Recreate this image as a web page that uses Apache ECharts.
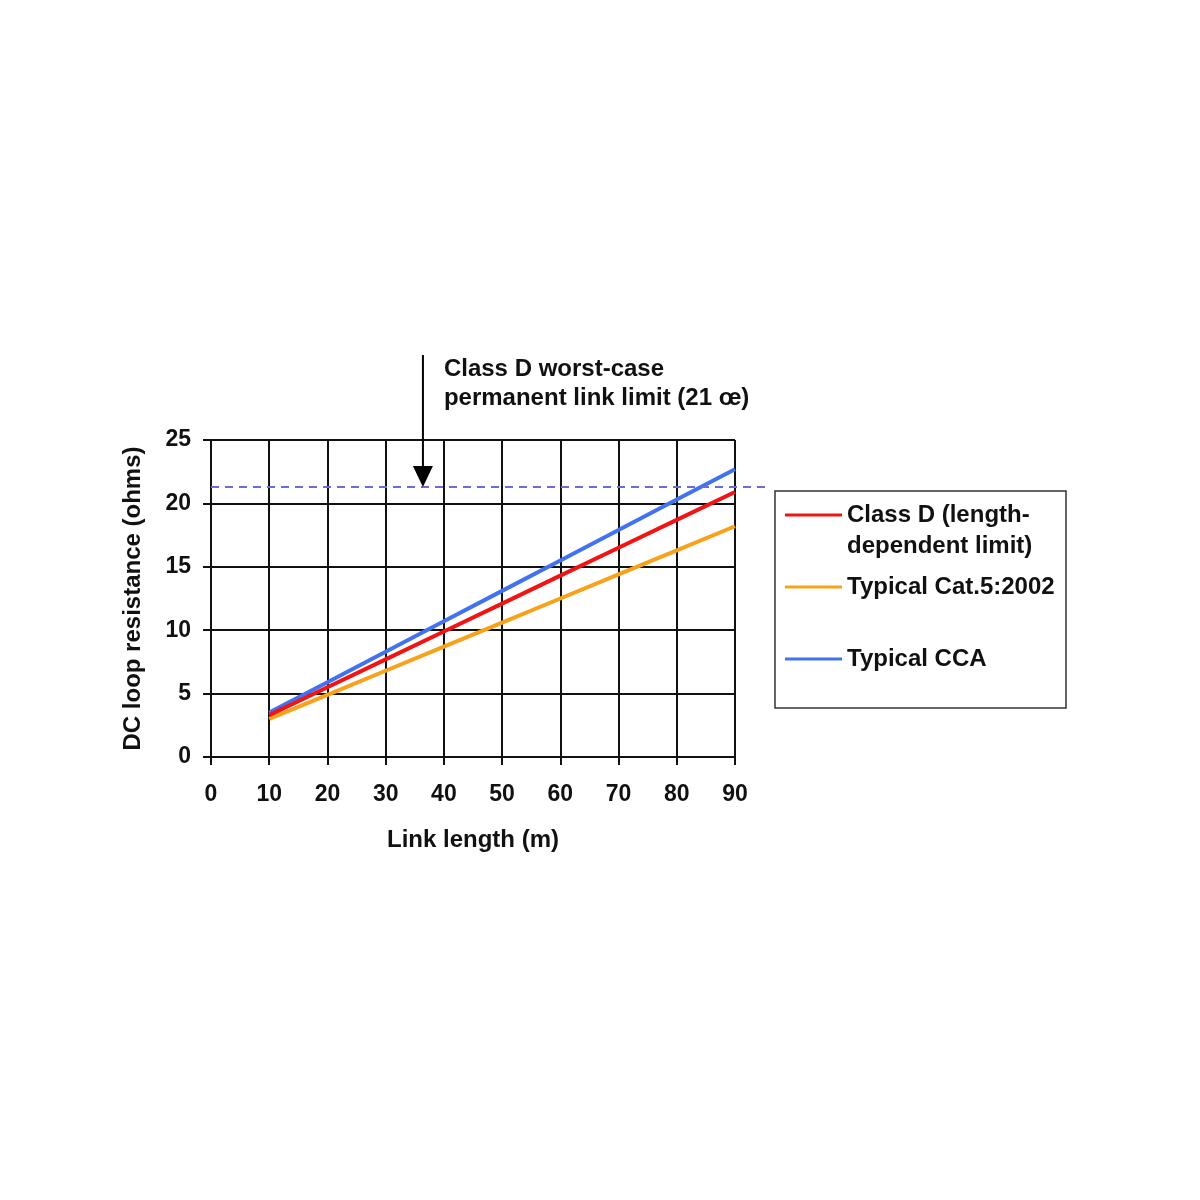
<!DOCTYPE html>
<html><head><meta charset="utf-8">
<script src="https://cdn.jsdelivr.net/npm/echarts@6/dist/echarts.min.js"></script>
<style>html,body{margin:0;padding:0;background:#fff}#c{width:1200px;height:1200px}</style>
</head><body><div id="c"></div>
<script>
const xValues = [10, 20, 30, 40, 50, 60, 70, 80, 90];
const classD = [3.3, 5.5, 7.7, 9.9, 12.1, 14.3, 16.5, 18.7, 20.9];
const cat5 = [3.0, 4.9, 6.8, 8.7, 10.6, 12.5, 14.4, 16.3, 18.2];
const cca = [3.5, 5.9, 8.3, 10.7, 13.1, 15.5, 17.9, 20.3, 22.7];
const seriesNames = ['Class D (length-\ndependent limit)', 'Typical Cat.5:2002', 'Typical CCA'];
const seriesColors = ['#f01414', '#f7a21b', '#4272f0'];
const xTicks = [0, 10, 20, 30, 40, 50, 60, 70, 80, 90];
const yTicks = [0, 5, 10, 15, 20, 25];
const limitValue = 21.3;
const limitLineEndX = 95.2;
const arrowX = 36.4;
const arrowTopY = 31.7;
const annotationText = 'Class D worst-case\npermanent link limit (21 œ)';

const FONT = '"Liberation Sans", Arial, sans-serif';
const FS = 24;
const chart = echarts.init(document.getElementById('c'));
const allData = [classD, cat5, cca];

chart.setOption({
  animation: false,
  backgroundColor: '#fff',
  grid: { left: 211, right: 465, top: 440, bottom: 443, containLabel: false },
  xAxis: {
    type: 'value', min: xTicks[0], max: xTicks[xTicks.length - 1], interval: 10,
    name: 'Link length (m)', nameLocation: 'middle', nameGap: 71,
    nameTextStyle: { fontFamily: FONT, fontWeight: 'bold', fontSize: FS, color: '#111' },
    axisLine: { show: true, lineStyle: { color: '#111', width: 2 } },
    axisTick: { show: true, length: 8, lineStyle: { color: '#111', width: 2 } },
    axisLabel: { margin: 26, fontFamily: FONT, fontWeight: 'bold', fontSize: 23, color: '#111' },
    splitLine: { show: true, lineStyle: { color: '#111', width: 2 } }
  },
  yAxis: {
    type: 'value', min: yTicks[0], max: yTicks[yTicks.length - 1], interval: 5,
    name: 'DC loop resistance (ohms)', nameLocation: 'middle', nameGap: 66,
    nameTextStyle: { fontFamily: FONT, fontWeight: 'bold', fontSize: FS, color: '#111' },
    axisLine: { show: true, lineStyle: { color: '#111', width: 2 } },
    axisTick: { show: true, length: 8, lineStyle: { color: '#111', width: 2 } },
    axisLabel: { margin: 20, fontFamily: FONT, fontWeight: 'bold', fontSize: 23, color: '#111' },
    splitLine: { show: true, lineStyle: { color: '#111', width: 2 } }
  },
  legend: {
    orient: 'vertical', left: 785, top: 468.5, padding: 0, itemGap: 10,
    itemWidth: 57, itemHeight: 3, icon: 'rect',
    textStyle: { fontFamily: FONT, fontWeight: 'bold', fontSize: FS, color: '#111', lineHeight: 31 },
    formatter: function (name) {
      if (name === seriesNames[0]) return '\n' + name;
      if (name === seriesNames[2]) return '\n' + name + '\n';
      return name;
    },
    data: seriesNames
  },
  series: seriesNames.map((n, i) => ({
    name: n, type: 'line', showSymbol: false, symbol: 'none',
    data: xValues.map((x, j) => [x, allData[i][j]]),
    lineStyle: { color: seriesColors[i], width: 4 },
    itemStyle: { color: seriesColors[i] },
    z: 5 - i
  }))
});

function drawOverlay() {
  const p0 = chart.convertToPixel({ gridIndex: 0 }, [xTicks[0], limitValue]);
  const p1 = chart.convertToPixel({ gridIndex: 0 }, [limitLineEndX, limitValue]);
  const tip = chart.convertToPixel({ gridIndex: 0 }, [arrowX, limitValue]);
  const top = chart.convertToPixel({ gridIndex: 0 }, [arrowX, arrowTopY]);
  chart.setOption({
    graphic: [
      { type: 'line', z: 10, shape: { x1: p0[0], y1: p0[1], x2: p1[0], y2: p1[1] },
        style: { stroke: '#6c6cd4', lineWidth: 2, lineDash: [8, 6] } },
      { type: 'line', z: 11, shape: { x1: top[0], y1: top[1], x2: tip[0], y2: tip[1] - 18 },
        style: { stroke: '#000', lineWidth: 2 } },
      { type: 'polygon', z: 11, shape: { points: [[tip[0] - 10, tip[1] - 21], [tip[0] + 10, tip[1] - 21], [tip[0], tip[1]]] },
        style: { fill: '#000' } },
      { type: 'text', z: 11, left: top[0] + 21, top: top[1],
        style: { text: annotationText, font: 'bold ' + FS + 'px ' + FONT, fill: '#111', lineHeight: 29 } },
      { type: 'rect', z: 1, shape: { x: 775, y: 491, width: 291, height: 217 },
        style: { fill: 'none', stroke: '#333', lineWidth: 1.5 } }
    ]
  });
}
drawOverlay();
</script>
</body></html>
